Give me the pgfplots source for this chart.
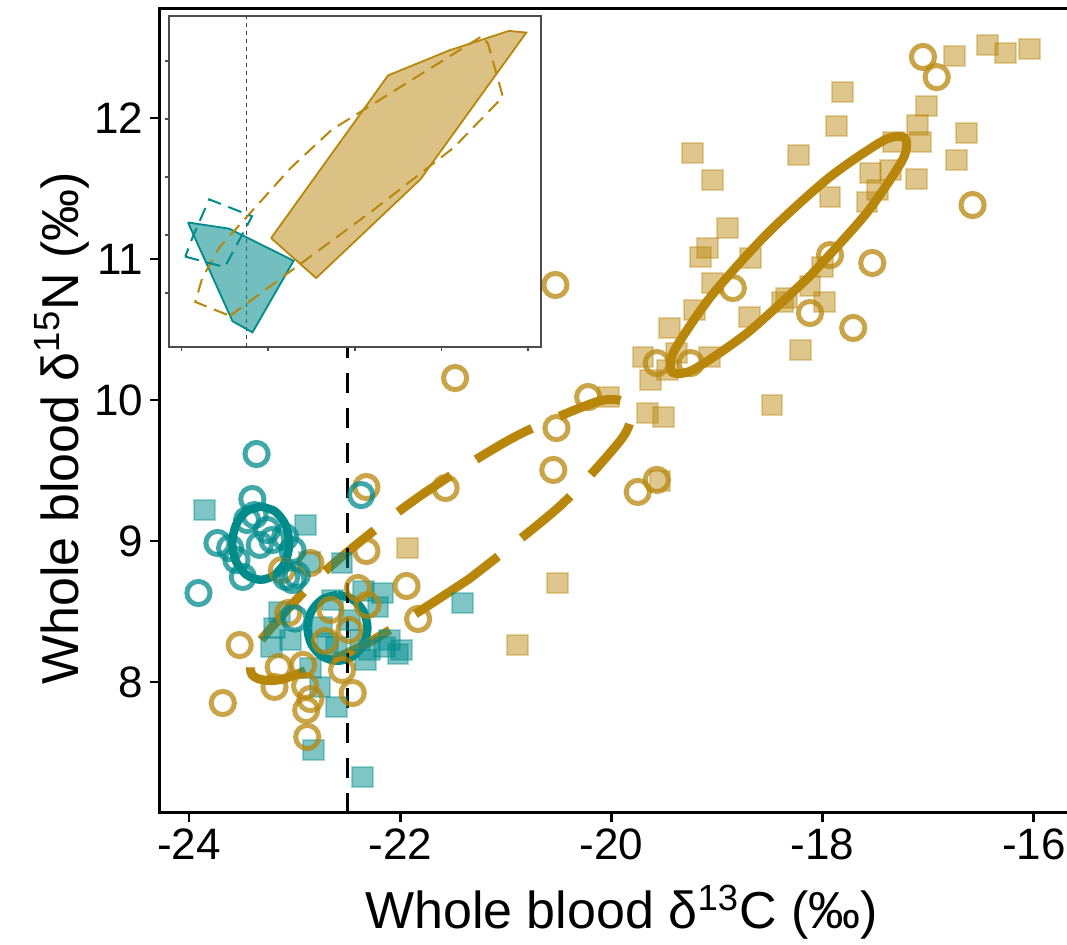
\documentclass[border=0pt]{standalone}
\usepackage{fontspec}
\setmainfont{Liberation Sans}
\usepackage{pgfplots}
\pgfplotsset{compat=1.18}
\definecolor{gold}{HTML}{B8860B}
\definecolor{tealc}{HTML}{008B8B}
\begin{document}
\begin{tikzpicture}
\path[use as bounding box] (-79.75pt,-66.15pt) rectangle (453.75pt,406.35pt);
\begin{axis}[
  name=main, at={(0,0)}, anchor=south west,
  scale only axis, width=453.75pt, height=402.1pt,
  xmin=-24.279, xmax=-15.686, ymin=7.073, ymax=12.777,
  axis line style={draw=none},
  clip=false,
  xtick={-24,-22,-20,-18,-16}, xticklabels={-24,-22,-20,-18,-16},
  ytick={8,9,10,11,12}, yticklabels={8,9,10,11,12},
  xtick pos=left, ytick pos=left, tick align=outside,
  major tick length=4.5pt,
  tick style={black, line width=1.35pt},
  tick label style={font=\fontsize{22}{26}\selectfont},
  xlabel={Whole blood δ\textsuperscript{13}C (‰)},
  ylabel={Whole blood δ\textsuperscript{15}N (‰)},
  label style={font=\fontsize{26}{30}\selectfont},
  xlabel style={at={(axis description cs:0.509,-0.144)}, anchor=base},
  ylabel style={at={(axis description cs:-0.0898,0.478)}, anchor=base},
]
% gold squares
\addplot[only marks, mark=square*, mark size=5.2pt, mark options={fill=gold, fill opacity=0.47, draw=gold, draw opacity=0.35, line width=1pt}] coordinates {
(-16.44,12.518) (-16.27,12.461) (-16.04,12.489) (-16.75,12.440) (-17.81,12.184) (-17.02,12.085) (-17.87,11.943) (-17.10,11.950) (-16.64,11.894) (-17.07,11.830) (-17.33,11.830) (-19.23,11.752) (-18.23,11.738) (-16.73,11.702) (-19.04,11.560) (-17.55,11.610) (-17.36,11.631) (-17.11,11.567) (-17.48,11.489) (-17.93,11.440) (-17.58,11.404) (-18.90,11.220) (-19.09,11.078) (-19.16,11.014) (-18.68,11.007) (-18.00,10.943) (-19.04,10.830) (-18.12,10.809) (-18.34,10.723) (-18.38,10.695) (-17.98,10.695) (-19.21,10.638) (-18.69,10.589) (-19.45,10.511) (-19.70,10.305) (-19.07,10.305) (-19.38,10.333) (-19.47,10.213) (-19.63,10.142) (-18.21,10.355) (-18.48,9.965) (-19.66,9.908) (-19.51,9.879) (-20.03,10.021) (-19.54,9.426) (-21.93,8.950) (-20.51,8.702) (-20.89,8.262)
};
% teal squares
\addplot[only marks, mark=square*, mark size=5.2pt, mark options={fill=tealc, fill opacity=0.5, draw=tealc, draw opacity=0.35, line width=1pt}] coordinates {
(-23.85,9.220) (-22.90,9.113) (-22.86,8.851) (-22.55,8.844) (-21.41,8.560) (-22.17,8.631) (-22.35,8.645) (-22.21,8.532) (-23.14,8.496) (-23.19,8.383) (-23.22,8.248) (-22.74,8.390) (-22.10,8.298) (-22.02,8.199) (-22.15,8.248) (-22.29,8.227) (-22.60,7.823) (-22.82,7.518) (-22.36,7.326) (-22.85,8.099) (-22.76,7.965) (-22.69,8.277) (-22.60,8.248) (-22.38,8.298) (-22.33,8.156) (-22.64,8.582) (-21.99,8.227) (-23.04,8.298) (-22.48,8.440)
};
% gold circles
\addplot[only marks, mark=o, mark size=5.8pt, mark options={draw=gold, draw opacity=0.75, line width=2.5pt}] coordinates {
(-17.05,12.433) (-16.92,12.290) (-16.58,11.383) (-17.93,11.028) (-17.53,10.972) (-18.85,10.794) (-18.12,10.617) (-17.71,10.511) (-19.57,10.262) (-19.25,10.262) (-20.53,10.816) (-20.22,10.021) (-20.52,9.801) (-20.55,9.504) (-19.57,9.433) (-19.75,9.348) (-21.48,10.156) (-22.32,9.383) (-21.57,9.376) (-22.32,8.929) (-21.94,8.681) (-21.83,8.447) (-23.12,8.794) (-22.85,8.844) (-22.40,8.667) (-22.31,8.546) (-22.66,8.511) (-22.48,8.369) (-22.71,8.291) (-23.06,8.489) (-23.52,8.262) (-23.15,8.106) (-22.92,8.121) (-23.19,7.965) (-22.90,7.972) (-22.55,8.085) (-22.45,7.922) (-22.85,7.879) (-22.89,7.801) (-23.68,7.851) (-22.88,7.610)
};
% teal circles
\addplot[only marks, mark=o, mark size=5.8pt, mark options={draw=tealc, draw opacity=0.75, line width=2.5pt}] coordinates {
(-23.36,9.617) (-23.40,9.298) (-23.73,8.986) (-23.91,8.631) (-23.45,9.149) (-23.26,9.078) (-23.33,8.972) (-23.21,9.007) (-23.55,8.865) (-23.49,8.745) (-23.09,9.028) (-23.02,8.936) (-23.08,8.745) (-23.02,8.723) (-22.98,8.759) (-22.37,9.326) (-23.38,9.184) (-23.61,8.950) (-23.00,8.450)
};
% teal ellipses
\addplot[tealc, line width=4.2pt, smooth] coordinates {
(-23.32,9.245) (-23.455,9.210) (-23.554,9.115) (-23.59,8.985) (-23.554,8.855) (-23.455,8.760) (-23.32,8.725) (-23.185,8.760) (-23.086,8.855) (-23.05,8.985) (-23.086,9.115) (-23.185,9.210) (-23.32,9.245)
};
\addplot[tealc, line width=4.2pt, smooth] coordinates {
(-22.594,8.618) (-22.736,8.587) (-22.840,8.501) (-22.878,8.384) (-22.840,8.267) (-22.736,8.181) (-22.594,8.150) (-22.452,8.181) (-22.348,8.267) (-22.310,8.384) (-22.348,8.501) (-22.452,8.587) (-22.594,8.618)
};
% gold solid ellipse
\addplot[gold, line width=4.5pt, smooth] coordinates {
(-18.121,10.878) (-18.700,10.484) (-19.177,10.235) (-19.335,10.189) (-19.425,10.199) (-19.439,10.267) (-19.378,10.386) (-19.048,10.744) (-18.525,11.179) (-17.946,11.573) (-17.469,11.821) (-17.311,11.868) (-17.221,11.857) (-17.206,11.790) (-17.268,11.671) (-17.598,11.313) (-18.121,10.878)
};
% gold dashed ellipse
\addplot[gold, line width=4.5pt, smooth, dash pattern=on 32pt off 15pt] coordinates {
(-21.349,8.730) (-22.278,8.289) (-23.030,8.041) (-23.273,8.012) (-23.402,8.051) (-23.409,8.155) (-23.295,8.318) (-22.737,8.769) (-21.878,9.284) (-20.949,9.725) (-20.197,9.973) (-19.955,10.002) (-19.826,9.963) (-19.818,9.859) (-19.933,9.696) (-20.491,9.245) (-21.349,8.730)
};
% vertical reference line
\addplot[black, line width=1.5pt, dash pattern=on 10pt off 7.5pt] coordinates {(-22.5,7.073) (-22.5,12.777)};
\draw[line width=1.35pt] (rel axis cs:1,1) -- (rel axis cs:0,1) -- (rel axis cs:0,0) -- (rel axis cs:1,0);
\end{axis}
\begin{axis}[
  at={(4.9pt,232.7pt)}, anchor=south west,
  scale only axis, width=185.85pt, height=165.65pt,
  xmin=-24.28, xmax=-15.70, ymin=7.07, ymax=12.775,
  axis background/.style={fill=white},
  axis line style={draw=black!70, line width=0.8pt},
  xtick={-24,-22,-20,-18,-16}, ytick={8,9,10,11,12},
  xticklabels={}, yticklabels={},
  tick align=outside, xtick pos=left, ytick pos=left,
  major tick length=2pt,
  tick style={black!70, line width=0.8pt},
]
\addplot[black!75, line width=0.6pt, dash pattern=on 2pt off 2pt] coordinates {(-22.5,7.07) (-22.5,12.775)};
\addplot[fill=gold, fill opacity=0.5, draw=gold, line width=0.9pt] coordinates {
(-21.93,8.950) (-19.23,11.752) (-17.81,12.184) (-16.44,12.518) (-16.04,12.489) (-18.48,9.965) (-20.89,8.262) (-21.93,8.950)
};
\addplot[fill=tealc, fill opacity=0.55, draw=tealc, line width=0.9pt] coordinates {
(-23.85,9.220) (-22.90,9.113) (-21.41,8.560) (-22.36,7.326) (-22.82,7.518) (-23.85,9.220)
};
\addplot[gold, line width=1pt, dash pattern=on 7pt off 4pt] coordinates {
(-22.88,7.610) (-19.57,9.433) (-17.71,10.511) (-16.58,11.383) (-16.92,12.290) (-17.05,12.433) (-20.53,10.816) (-21.48,10.156) (-23.12,8.794) (-23.52,8.262) (-23.68,7.851) (-22.88,7.610)
};
\addplot[tealc, line width=1pt, dash pattern=on 7pt off 4pt] coordinates {
(-23.91,8.631) (-23.00,8.450) (-22.37,9.326) (-23.36,9.617) (-23.73,8.986) (-23.91,8.631)
};
\end{axis}
\end{tikzpicture}
\end{document}
